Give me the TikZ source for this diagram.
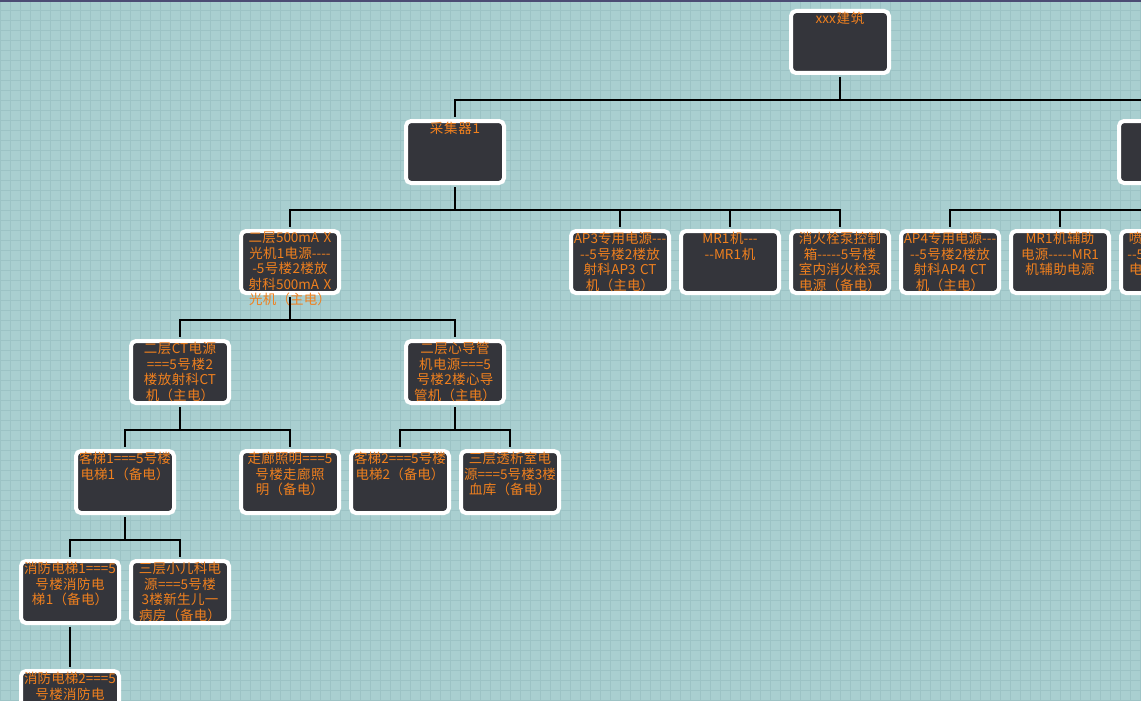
\documentclass[tikz,border=0pt]{standalone}
\usepackage{fontspec}
\newfontfamily\cjk{Noto Sans CJK SC}
\XeTeXlinebreaklocale "zh"
\XeTeXlinebreakskip=0pt plus 1pt
\usetikzlibrary{positioning}
\definecolor{bgteal}{HTML}{A9CFD0}
\definecolor{gridteal}{HTML}{9CC3C5}
\definecolor{boxgray}{HTML}{34353B}
\definecolor{txtorange}{HTML}{F0801E}
\begin{document}
\begin{tikzpicture}[x=1pt, y=-1pt,
	box/.style={draw=white, line width=4pt, fill=boxgray, rounded corners=5pt, minimum width=98pt, minimum height=62pt},
	lbl/.style={text=txtorange, font=\cjk\fontsize{13.5}{15.5}\selectfont, text width=95pt, align=center, inner sep=0pt, anchor=north},
	bus/.style={line width=2.5pt}]
	\useasboundingbox (0,0) rectangle (1141,701);
	\fill[bgteal] (0,0) rectangle (1141,701);
	\draw[gridteal, line width=0.5pt, step=10pt] (0,0) grid (1141,701);
	\fill[black!60!blue!40!gray] (0,0) rectangle (1141,2);
	\clip (0,0) rectangle (1141,701);
	% nodes
	\node[box] (root) at (840,42) {};
	\node[box] (c1) at (455,152) {};
	\node[box] (c2) at (1168,152) {};
	\node[box] (xray) at (290,262) {};
	\node[box] (ap3) at (620,262) {};
	\node[box] (mr1) at (730,262) {};
	\node[box] (xhs) at (840,262) {};
	\node[box] (ap4) at (950,262) {};
	\node[box] (mr1f) at (1060,262) {};
	\node[box] (pl) at (1170,262) {};
	\node[box] (ct) at (180,372) {};
	\node[box] (xdg) at (455,372) {};
	\node[box] (kt1) at (125,482) {};
	\node[box] (zl) at (290,482) {};
	\node[box] (kt2) at (400,482) {};
	\node[box] (tx) at (510,482) {};
	\node[box] (xf1) at (70,592) {};
	\node[box] (xek) at (180,592) {};
	\node[box] (xf2) at (70,702) {};
	% labels
	\node[lbl] at (root.north) [yshift=-3pt] {xxx建筑};
	\node[lbl] at (c1.north) [yshift=-3pt] {采集器1};
	\node[lbl] at (c2.north) [yshift=-3pt] {采集器2};
	\node[lbl] at (xray.north) [yshift=-3pt] {二层500mA X光机1电源----\\-5号楼2楼放射科500mA X光机（主电）};
	\node[lbl] at (ap3.north) [yshift=-3pt] {AP3专用电源---\\--5号楼2楼放射科AP3 CT机（主电）};
	\node[lbl] at (mr1.north) [yshift=-3pt] {MR1机-----MR1机};
	\node[lbl] at (xhs.north) [yshift=-3pt] {消火栓泵控制箱-----5号楼室内消火栓泵电源（备电）};
	\node[lbl] at (ap4.north) [yshift=-3pt] {AP4专用电源---\\--5号楼2楼放射科AP4 CT机（主电）};
	\node[lbl] at (mr1f.north) [yshift=-3pt] {MR1机辅助电源-----MR1机辅助电源};
	\node[lbl] at (pl.north) [yshift=-3pt] {喷淋泵电源---\\--5号楼喷淋泵电源（备电）};
	\node[lbl] at (ct.north) [yshift=-3pt] {二层CT电源===5号楼2楼放射科CT机（主电）};
	\node[lbl] at (xdg.north) [yshift=-3pt] {二层心导管机电源===5号楼2楼心导管机（主电）};
	\node[lbl] at (kt1.north) [yshift=-3pt] {客梯1===5号楼电梯1（备电）};
	\node[lbl] at (zl.north) [yshift=-3pt] {走廊照明===5号楼走廊照明（备电）};
	\node[lbl] at (kt2.north) [yshift=-3pt] {客梯2===5号楼电梯2（备电）};
	\node[lbl] at (tx.north) [yshift=-3pt] {三层透析室电源===5号楼3楼血库（备电）};
	\node[lbl] at (xf1.north) [yshift=-3pt] {消防电梯1===5号楼消防电梯1（备电）};
	\node[lbl] at (xek.north) [yshift=-3pt] {三层小儿科电源===5号楼3楼新生儿一病房（备电）};
	\node[lbl] at (xf2.north) [yshift=-3pt] {消防电梯2===5号楼消防电梯2（备电）};
	% connectors
	\foreach \p/\c in {root/c1, root/c2, c1/xray, c1/ap3, c1/mr1, c1/xhs, c2/ap4, c2/mr1f, c2/pl,
		xray/ct, xray/xdg, ct/kt1, ct/zl, xdg/kt2, xdg/tx, kt1/xf1, kt1/xek, xf1/xf2}
		\draw[bus] ([yshift=-2pt]\p.south) -- ++(0,23) -| ([yshift=2pt]\c.north);
\end{tikzpicture}
\end{document}
